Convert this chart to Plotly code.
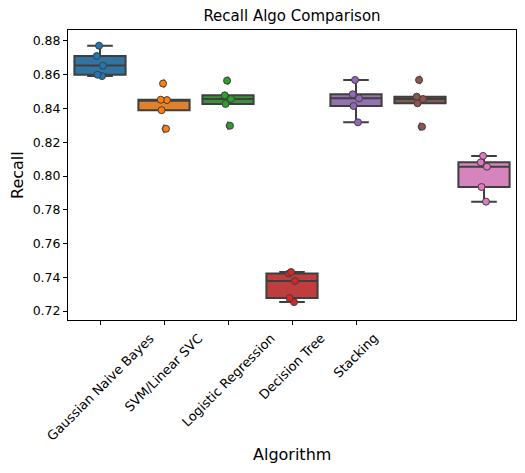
import plotly.graph_objects as go

# recall per fold for every model
algos = ["Gaussian Naive Bayes", "SVM/Linear SVC", "Logistic Regression", "Decision Tree", "Stacking"]
gnb = [0.8772, 0.8711, 0.8654, 0.8600, 0.8592]
svm = [0.8548, 0.8452, 0.8450, 0.8390, 0.8280]
logreg = [0.8565, 0.8478, 0.8456, 0.8427, 0.8298]
dtree = [0.7431, 0.7422, 0.7378, 0.7277, 0.7253]
stacking = [0.8569, 0.8484, 0.8460, 0.8415, 0.8318]
extra1 = [0.8569, 0.8470, 0.8456, 0.8431, 0.8292]
extra2 = [0.8119, 0.8081, 0.8055, 0.7935, 0.7848]
yticks = [0.72, 0.74, 0.76, 0.78, 0.80, 0.82, 0.84, 0.86, 0.88]

groups = [gnb, svm, logreg, dtree, stacking, extra1, extra2]
# seaborn deep-ish box colours (desaturated) and plain tab10 for the dots
box_colors = ["#3274a1", "#e1812c", "#3a923a", "#c03d3e", "#9372b2", "#845b53", "#d684bd"]
dot_colors = ["#1f77b4", "#ff7f0e", "#2ca02c", "#d62728", "#9467bd", "#8c564b", "#e377c2"]
gray = "#3f3f3f"
font = "DejaVu Sans"

fig = go.Figure()

# boxes with outliers as diamonds
for i, vals in enumerate(groups):
    fig.add_trace(go.Box(
        x=[i] * len(vals), y=vals, width=0.8, whiskerwidth=0.5,
        quartilemethod="inclusive", boxpoints="outliers",
        fillcolor=box_colors[i], line=dict(color=gray, width=2),
        marker=dict(symbol="diamond-tall", color=gray, size=7),
        showlegend=False, hoverinfo="y"))

# strip points on top (jittered)
for i, vals in enumerate(groups):
    fig.add_trace(go.Box(
        x=[i] * len(vals), y=vals, width=0.8, boxpoints="all", jitter=0.15, pointpos=0,
        fillcolor="rgba(0,0,0,0)", line=dict(color="rgba(0,0,0,0)", width=0),
        marker=dict(color=dot_colors[i], size=7, line=dict(color=gray, width=1)),
        showlegend=False, hoverinfo="y"))

# rotated tick labels centred on their ticks like matplotlib
for i, name in enumerate(algos):
    fig.add_annotation(x=i, y=0, xref="x", yref="paper", text=name, showarrow=False,
                       textangle=-45, xanchor="center", yanchor="top", yshift=-8,
                       font=dict(family=font, size=13, color="black"))

fig.add_annotation(x=0.5, y=0, xref="paper", yref="paper", text="Algorithm", showarrow=False,
                   xanchor="center", yanchor="middle", yshift=-134,
                   font=dict(family=font, size=16, color="black"))
fig.add_annotation(x=0, y=0.5, xref="paper", yref="paper", text="Recall", showarrow=False,
                   textangle=-90, xanchor="center", yanchor="middle", xshift=-51,
                   font=dict(family=font, size=16, color="black"))

fig.update_layout(
    width=525, height=473,
    margin=dict(l=68, r=9, t=30, b=153),
    boxmode="overlay",
    paper_bgcolor="white", plot_bgcolor="white",
    font=dict(family=font, size=12.5, color="black"),
    title=dict(text="Recall Algo Comparison", x=0.5, xref="paper", xanchor="center",
               y=1 - 15.5 / 473, yanchor="middle", font=dict(size=15)),
    xaxis=dict(range=[-0.5, 6.5], tickvals=[0, 1, 2, 3, 4], ticktext=[""] * 5,
               ticks="outside", ticklen=4, tickcolor="black", showgrid=False, zeroline=False,
               showline=True, mirror=True, linecolor="black", linewidth=1, automargin=False),
    yaxis=dict(range=[0.7147, 0.8865], tickvals=yticks, tickformat=".2f",
               ticks="outside", ticklen=4, tickcolor="black", showgrid=False, zeroline=False,
               showline=True, mirror=True, linecolor="black", linewidth=1, automargin=False),
)

# the page has a default body margin which shifts the figure; drop it
fig.write_html("out.html", config={"displayModeBar": False},
               post_script="document.body.style.margin = '0';")
